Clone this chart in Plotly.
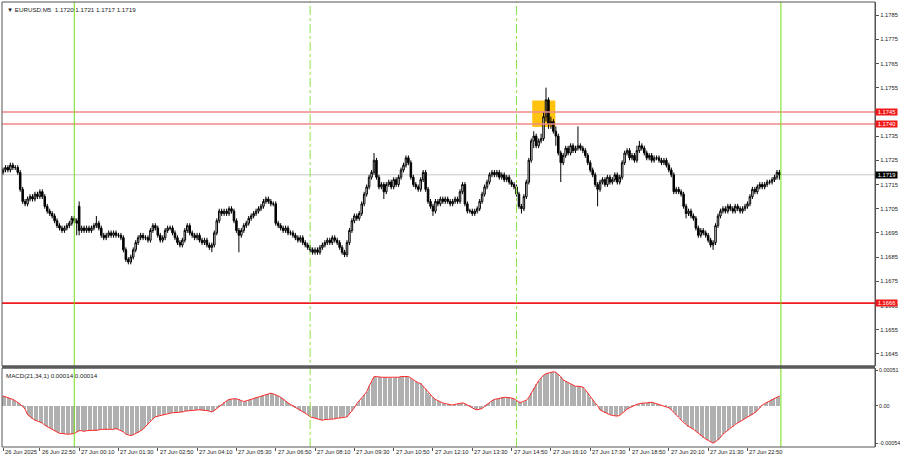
import plotly.graph_objects as go

# ---------------- data (prices in pips above 1.1600) ----------------
BASE = 1.16
PIP = 0.0001

open_pips = [
    120,121,122,121,123,122,122,120,113,108,
    107,109,110,109,111,110,112,110,106,104,
    103,102,100,98,97,96,97,98,99,101,
    100,106,96,97,96,97,96,97,98,99,
    97,94,93,94,95,94,95,94,94,93,
    88,84,83,85,88,91,93,94,93,93,
    92,96,98,97,94,92,93,96,97,97,
    95,93,91,90,92,96,98,95,94,93,
    94,92,91,92,90,89,90,95,100,104,
    103,104,103,105,104,100,96,94,96,98,
    99,101,102,103,104,105,106,108,109,108,
    107,107,99,98,97,96,97,95,95,94,
    93,92,93,91,90,89,88,87,88,87,
    89,90,91,92,91,93,92,91,89,87,
    86,91,96,100,102,101,103,107,111,114,
    118,120,125,118,114,115,112,115,116,114,
    117,115,118,121,123,126,124,118,115,114,
    113,117,120,113,108,106,104,108,107,109,
    108,109,108,107,108,109,108,112,115,107,
    104,104,103,104,105,108,111,114,116,119,
    120,119,120,118,119,117,118,116,115,114,
    111,106,105,110,116,125,133,135,131,133,
    134,143,150,140,141,137,135,128,124,127,
    130,128,131,129,130,131,130,129,127,124,
    121,119,115,113,116,117,115,118,116,117,
    119,116,118,124,128,129,126,127,125,129,
    131,130,128,126,127,125,126,126,125,124,
    125,123,121,119,112,113,112,111,106,103,
    104,102,101,97,94,96,95,94,92,90,
    91,98,102,104,105,104,106,105,104,106,
    105,104,105,106,107,110,113,112,114,115,
    114,115,116,116,117,118,120,
]
high_pips = [
    122,123,123,124,124,123,123,121,114,109,
    110,111,111,112,112,113,113,111,107,105,
    104,103,101,99,98,98,99,100,102,102,
    101,108,98,98,98,98,98,99,102,100,
    98,95,95,96,96,96,96,95,95,94,
    89,85,86,89,92,94,95,95,94,94,
    97,99,99,98,95,94,97,98,98,98,
    96,94,92,93,97,99,99,96,95,95,
    95,93,93,93,91,91,96,101,105,105,
    105,105,106,106,105,101,97,97,99,100,
    102,103,104,105,106,107,109,110,110,109,
    108,108,100,99,98,98,98,96,96,95,
    94,94,94,92,91,90,89,89,89,90,
    91,92,93,93,94,94,93,92,90,88,
    92,97,101,103,103,104,108,112,115,119,
    121,128,126,119,116,116,116,117,117,118,
    118,119,122,124,127,127,125,119,116,115,
    118,121,121,114,109,107,109,109,110,110,
    110,110,109,109,110,110,113,116,116,108,
    105,105,105,106,109,112,115,117,120,121,
    121,121,121,120,120,119,119,117,116,115,
    112,107,111,117,126,134,137,136,134,136,
    145,155,151,143,142,139,136,129,128,131,
    131,132,132,131,139,132,131,130,128,125,
    122,120,116,117,118,118,119,119,118,120,
    120,119,125,129,130,130,128,128,131,133,
    132,131,129,128,128,127,127,127,126,126,
    126,124,122,120,114,114,113,112,107,105,
    105,103,102,98,97,97,96,95,93,92,
    99,103,105,106,106,107,107,106,107,107,
    106,106,107,108,111,114,114,115,116,116,
    116,117,117,118,119,121,121,
]
low_pips = [
    119,120,120,120,121,121,119,112,107,106,
    106,108,108,108,109,109,109,105,103,102,
    101,99,97,96,95,95,96,97,98,99,
    94,94,95,95,95,95,95,96,97,96,
    93,92,92,93,93,93,93,93,92,87,
    83,82,82,84,87,90,92,92,92,91,
    91,95,96,93,91,91,92,95,96,94,
    92,90,89,89,91,95,94,93,92,92,
    91,90,90,89,88,87,89,94,99,102,
    102,102,102,103,99,95,87,93,95,97,
    98,100,101,102,103,104,105,107,107,106,
    106,98,97,96,95,95,94,94,93,92,
    91,91,90,89,88,87,86,86,86,86,
    88,89,90,90,90,91,90,88,86,85,
    85,90,95,99,100,100,102,106,110,113,
    117,119,117,113,113,109,111,114,113,113,
    114,114,117,120,122,123,117,114,113,112,
    112,116,112,107,105,102,103,106,106,107,
    107,107,106,106,107,107,107,111,106,103,
    103,102,102,103,104,107,110,113,115,118,
    118,118,117,117,116,116,115,114,113,110,
    105,103,104,109,115,124,130,130,130,132,
    133,141,138,138,136,131,127,116,123,126,
    127,127,128,128,129,129,128,126,123,120,
    118,114,106,112,115,114,114,115,115,116,
    115,115,117,123,127,125,125,124,124,128,
    129,127,125,125,124,124,125,124,123,123,
    122,120,118,111,111,111,110,105,101,102,
    101,100,96,93,93,94,93,91,89,88,
    90,97,101,103,103,103,104,103,103,104,
    103,103,104,105,106,109,111,111,113,113,
    113,114,115,115,116,117,117,
]
close_pips = [
    121,122,121,123,122,122,120,113,108,107,
    109,110,109,111,110,112,110,106,104,103,
    102,100,98,97,96,97,98,99,101,100,
    99,96,97,96,97,96,97,98,99,97,
    94,93,94,95,94,95,94,94,93,88,
    84,83,85,88,91,93,94,93,93,92,
    96,98,97,94,92,93,96,97,97,95,
    93,91,90,92,96,98,95,94,93,94,
    92,91,92,90,89,90,95,100,104,103,
    104,103,105,104,100,96,94,96,98,99,
    101,102,103,104,105,106,108,109,108,107,
    107,99,98,97,96,97,95,95,94,93,
    92,93,91,90,89,88,87,88,87,89,
    90,91,92,91,93,92,91,89,87,86,
    91,96,100,102,101,103,107,111,114,118,
    120,125,118,114,115,112,115,116,114,117,
    115,118,121,123,126,124,118,115,114,113,
    117,120,113,108,106,104,108,107,109,108,
    109,108,107,108,109,108,112,115,107,104,
    104,103,104,105,108,111,114,116,119,120,
    119,120,118,119,117,118,116,115,114,111,
    106,105,110,116,125,133,135,131,133,134,
    143,150,140,141,137,135,128,124,127,130,
    128,131,129,130,131,130,129,127,124,121,
    119,115,113,116,117,115,118,116,117,119,
    116,118,124,128,129,126,127,125,129,131,
    130,128,126,127,125,126,126,125,124,125,
    123,121,119,112,113,112,111,106,103,104,
    102,101,97,94,96,95,94,92,90,91,
    98,102,104,105,104,106,105,104,106,105,
    104,105,106,107,110,113,112,114,115,114,
    115,116,116,117,118,120,119,
]
# MACD(21,34,1) main value per bar, in units of 0.00001
macd_e5 = [
    14,13,12,11,9,7,5,2,-1,-5,
    -13,-16,-19,-21,-22,-23,-25,-28,-30,-32,
    -34,-36,-38,-40,-40,-41,-41,-41,-41,-40,
    -38,-36,-36,-37,-36,-36,-35,-36,-36,-35,
    -34,-34,-35,-34,-34,-34,-33,-34,-36,-38,
    -41,-42,-43,-42,-40,-39,-37,-34,-30,-26,
    -22,-19,-16,-15,-14,-13,-12,-11,-10,-10,
    -10,-10,-9,-9,-8,-7,-7,-7,-6,-6,
    -6,-6,-7,-7,-8,-9,-7,-4,-1,2,
    5,7,9,10,10,10,9,7,6,7,
    8,10,11,12,13,14,15,16,17,18,
    17,16,14,12,10,7,4,2,-1,-3,
    -5,-7,-9,-11,-13,-16,-17,-18,-19,-21,
    -21,-20,-20,-19,-19,-19,-18,-18,-17,-17,
    -16,-12,-8,-3,3,7,11,15,20,28,
    36,42,42,41,41,41,41,40,40,40,
    41,41,42,42,43,42,40,37,35,33,
    32,28,24,19,15,12,9,7,5,4,
    3,2,1,1,2,3,3,4,3,1,
    -2,-4,-5,-6,-5,-4,-1,2,4,7,
    9,10,11,12,12,12,12,11,10,7,
    5,5,6,8,12,18,25,31,36,40,
    44,46,47,48,49,48,45,42,37,35,
    33,31,30,28,28,28,27,23,18,13,
    8,4,0,-6,-8,-10,-11,-13,-14,-15,
    -15,-14,-11,-7,-5,-3,-1,1,2,3,
    4,4,4,5,5,4,3,2,1,0,
    -1,-3,-6,-9,-13,-17,-21,-24,-27,-30,
    -32,-34,-37,-40,-43,-46,-48,-50,-52,-54,
    -52,-49,-46,-41,-38,-35,-32,-30,-27,-25,
    -23,-21,-19,-17,-15,-13,-10,-7,-3,1,
    3,5,7,9,11,12,14,
]

time_tick_index = [0, 15, 31, 47, 63, 79, 95, 111, 127, 143, 159, 175,
                   191, 207, 223, 239, 255, 271, 287, 303]
time_tick_text = ["26 Jun 2025", "26 Jun 22:50", "27 Jun 00:10", "27 Jun 01:30",
                  "27 Jun 02:50", "27 Jun 04:10", "27 Jun 05:30", "27 Jun 06:50",
                  "27 Jun 08:10", "27 Jun 09:30", "27 Jun 10:50", "27 Jun 12:10",
                  "27 Jun 13:30", "27 Jun 14:50", "27 Jun 16:10", "27 Jun 17:30",
                  "27 Jun 18:50", "27 Jun 20:10", "27 Jun 21:30", "27 Jun 22:50"]
price_ticks = [1.1785, 1.1775, 1.1765, 1.1755, 1.1735, 1.1725, 1.1715,
               1.1705, 1.1695, 1.1685, 1.1675, 1.1665, 1.1655, 1.1645]
price_tick_text = ["1.1785", "1.1775", "1.1765", "1.1755", "1.1735",
                   "1.1725", "1.1715", "1.1705", "1.1695", "1.1685", "1.1675",
                   "1.1665", "1.1655", "1.1645"]
macd_ticks = [0.00051, 0.0, -0.00054]
macd_tick_text = ["0.00051", "0.00", "-0.00054"]

level_prices = [1.1745, 1.1740, 1.1666]
level_text = ["1.1745", "1.1740", "1.1666"]
current_price = 1.1719
day_separators = [29, 316.6]
session_marks = [125, 209]
zone_bars = [215.4, 224.8]
zone_prices = [1.17388, 1.17497]

header_text = "▼ EURUSD,M5  1.1720 1.1721 1.1717 1.1719"
macd_text = "MACD(21,34,1) 0.00014 0.00014"

# ---------------- figure ----------------
n = len(close_pips)
x = list(range(n))
to_price = lambda arr: [BASE + v * PIP for v in arr]
macd = [v * 1e-5 for v in macd_e5]

FONT = "Liberation Sans"
MAIN_DOM = [0.182, 1.0]
MACD_DOM = [0.0, 0.1775]
TXT = "#222222"

fig = go.Figure()
fig.add_trace(go.Bar(
    x=x, y=macd, width=0.45, marker=dict(color="#b0b0b0", line=dict(width=0)),
    xaxis="x", yaxis="y2", hoverinfo="skip"))
fig.add_trace(go.Scatter(
    x=x, y=macd, mode="lines", line=dict(color="#ff2a2a", width=1),
    xaxis="x", yaxis="y2", hoverinfo="skip"))
fig.add_trace(go.Candlestick(
    x=x, open=to_price(open_pips), high=to_price(high_pips),
    low=to_price(low_pips), close=to_price(close_pips),
    increasing=dict(line=dict(color="#000000", width=1), fillcolor="#ffffff"),
    decreasing=dict(line=dict(color="#000000", width=1), fillcolor="#000000"),
    whiskerwidth=0, xaxis="x", yaxis="y"))

shapes = []
shapes.append(dict(type="rect", xref="x", yref="y", x0=zone_bars[0], x1=zone_bars[1],
                   y0=zone_prices[0], y1=zone_prices[1], fillcolor="#ffc20e",
                   line=dict(width=0), layer="below"))
shapes.append(dict(type="line", xref="paper", yref="y", x0=0, x1=1,
                   y0=current_price, y1=current_price,
                   line=dict(color="#c8c8c8", width=1), layer="below"))
for p, col, w in zip(level_prices, ["#f28a8a", "#f28a8a", "#ee1c1c"], [1.5, 1.5, 1.8]):
    shapes.append(dict(type="line", xref="paper", yref="y", x0=0, x1=1, y0=p, y1=p,
                       line=dict(color=col, width=w), layer="above"))
for s in day_separators:
    shapes.append(dict(type="line", xref="x", yref="paper", x0=s, x1=s, y0=0, y1=1,
                       line=dict(color="#74dc14", width=1), layer="above"))
for s in session_marks:
    shapes.append(dict(type="line", xref="x", yref="paper", x0=s, x1=s, y0=0, y1=1,
                       line=dict(color="#8ee24a", width=1, dash="dashdot"), layer="above"))
shapes.append(dict(type="rect", xref="paper", yref="paper", x0=0, x1=1,
                   y0=MAIN_DOM[0], y1=1, line=dict(color="#555555", width=1)))
shapes.append(dict(type="rect", xref="paper", yref="paper", x0=0, x1=1,
                   y0=0, y1=MACD_DOM[1], line=dict(color="#555555", width=1)))
shapes.append(dict(type="line", xref="paper", yref="paper", x0=0, x1=1,
                   y0=(MAIN_DOM[0] + MACD_DOM[1]) / 2, y1=(MAIN_DOM[0] + MACD_DOM[1]) / 2,
                   line=dict(color="#5a5a5a", width=3)))

annotations = []
annotations.append(dict(xref="paper", yref="paper", x=0, y=1, xanchor="left",
                        yanchor="top", xshift=3, yshift=-2, text=header_text,
                        showarrow=False, font=dict(family=FONT, size=6.2, color=TXT)))
annotations.append(dict(xref="paper", yref="paper", x=0, y=MACD_DOM[1], xanchor="left",
                        yanchor="top", xshift=2, yshift=-2, text=macd_text,
                        showarrow=False, font=dict(family=FONT, size=6.2, color=TXT)))
for idx, txt in zip(time_tick_index, time_tick_text):
    annotations.append(dict(xref="x", yref="paper", x=idx, y=0, xanchor="left",
                            yanchor="top", xshift=0, yshift=0, text=txt,
                            showarrow=False, font=dict(family=FONT, size=5.8, color=TXT)))
for p, t in zip(level_prices, level_text):
    annotations.append(dict(xref="paper", yref="y", x=1, y=p, xanchor="left",
                            yanchor="middle", xshift=0, text=t, showarrow=False,
                            bgcolor="#f01818", width=21, height=6, borderpad=0,
                            font=dict(family=FONT, size=5.8, color="#ffffff")))
annotations.append(dict(xref="paper", yref="y", x=1, y=current_price, xanchor="left",
                        yanchor="middle", xshift=0, text=f"{current_price:.4f}",
                        showarrow=False, bgcolor="#000000", width=21, height=6,
                        borderpad=0, font=dict(family=FONT, size=5.8, color="#ffffff")))

fig.update_layout(
    width=900, height=460,
    margin=dict(l=2, r=25, t=2, b=13, autoexpand=False),
    paper_bgcolor="#ffffff", plot_bgcolor="#ffffff",
    showlegend=False, bargap=0, boxgap=0.12,
    font=dict(family=FONT, size=6, color=TXT),
    xaxis=dict(domain=[0, 1], range=[-0.41, 354.9], anchor="y2",
               showgrid=False, zeroline=False, showticklabels=False,
               tickvals=time_tick_index, ticks="outside", ticklen=3,
               tickcolor="#555555", rangeslider=dict(visible=False),
               showline=False, fixedrange=True),
    yaxis=dict(domain=MAIN_DOM, range=[1.16400, 1.17904], side="right",
               anchor="x", showgrid=False, zeroline=False,
               tickvals=price_ticks, ticktext=price_tick_text,
               ticks="outside", ticklen=3, tickcolor="#555555",
               tickfont=dict(family=FONT, size=5.8, color=TXT),
               showline=True, linecolor="#555555", linewidth=1),
    yaxis2=dict(domain=MACD_DOM, range=[-0.000595, 0.000543], side="right",
                anchor="x", showgrid=False, zeroline=False,
                tickvals=macd_ticks, ticktext=macd_tick_text,
                ticks="outside", ticklen=2, tickcolor="#555555",
                tickfont=dict(family=FONT, size=5.4, color=TXT),
                showline=True, linecolor="#555555", linewidth=1),
    shapes=shapes, annotations=annotations,
)

fig.write_html(
    "out.html",
    config={"displayModeBar": False},
    post_script="document.body.style.margin='0';document.body.style.padding='0';"
                "document.documentElement.style.overflow='hidden';",
)
